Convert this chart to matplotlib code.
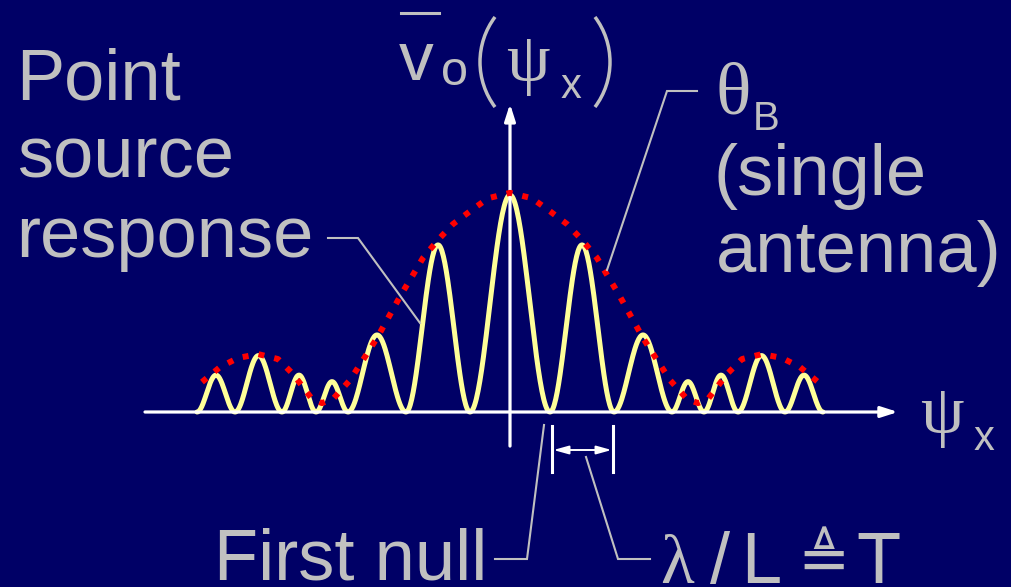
import numpy as np
import matplotlib
matplotlib.use("Agg")
import matplotlib.pyplot as plt
from matplotlib.patches import Arc
from matplotlib.transforms import Affine2D

# Fringe lobes of the point source response (positive ψx side, mirrored):
# nulls between lobes and the peak height of each lobe (centre lobe first)
null_psi = [0.40, 1.04, 1.62, 1.94, 2.28, 2.75, 3.13]
lobe_peak = [1.00, 0.77, 0.355, 0.14, 0.17, 0.26, 0.17]

# Single-antenna beam envelope θB (positive ψx side, mirrored)
env_psi = [0.00, 0.22, 0.40, 0.57, 0.72, 0.87, 0.97, 1.08, 1.23, 1.33, 1.47,
           1.60, 1.77, 1.88, 1.98, 2.17, 2.32, 2.52, 2.72, 2.90, 3.08]
env_amp = [1.01, 0.985, 0.925, 0.866, 0.793, 0.71, 0.632, 0.548, 0.424, 0.341,
           0.24, 0.147, 0.06, 0.041, 0.06, 0.175, 0.244, 0.267, 0.249, 0.207, 0.138]

BG = "#000066"
TXT = "#c0c0c0"
FRINGE = "#ffff99"
ENV = "#ff0000"
SANS = "Liberation Sans"
GREEK = "Liberation Serif"

W, H = 1012, 587
fig = plt.figure(figsize=(W / 100, H / 100), dpi=100, facecolor=BG)
ax = fig.add_axes([0, 0, 1, 1])
ax.set_facecolor(BG)
ax.axis("off")

# plot scale: origin and pixels per unit
ox, oy, sx, sy = 510, 412, 100, 217
ax.set_xlim(-ox / sx, (W - ox) / sx)
ax.set_ylim(-(H - oy) / sy, oy / sy)

# pixel coordinates (origin top-left) for labels and leaders
px = Affine2D().scale(1 / W, -1 / H).translate(0, 1) + fig.transFigure


def lobe(a, b, h, n=90):
    t = np.linspace(0.0, 1.0, n)
    return a + (b - a) * t, h * np.sin(np.pi * t) ** 2


# assemble the fringe pattern from left to right
xs, ys = [], []
for k in range(len(null_psi) - 1, 0, -1):
    x, y = lobe(-null_psi[k], -null_psi[k - 1], lobe_peak[k])
    xs.append(x); ys.append(y)
x, y = lobe(-null_psi[0], null_psi[0], lobe_peak[0])
xs.append(x); ys.append(y)
for k in range(1, len(null_psi)):
    x, y = lobe(null_psi[k - 1], null_psi[k], lobe_peak[k])
    xs.append(x); ys.append(y)
ax.plot(np.concatenate(xs), np.concatenate(ys), color=FRINGE, lw=3.6,
        solid_capstyle="round", zorder=2)

# envelope
ex = [-v for v in env_psi[::-1]] + env_psi[1:]
ey = env_amp[::-1] + env_amp[1:]
ax.plot(ex, ey, color=ENV, lw=4.3, linestyle=(0, (1, 1.7)),
        dash_capstyle="butt", zorder=4)

# axes with arrowheads
axis_style = dict(arrowstyle="-|>,head_length=1.0,head_width=0.32",
                  lw=2.3, color="white", shrinkA=0, shrinkB=0)
ax.annotate("", xy=(3.88, 0), xytext=(-3.65, 0), arrowprops=axis_style,
            zorder=3)
ax.annotate("", xy=(0, 1.42), xytext=(0, -0.157), arrowprops=axis_style,
            zorder=3)


def label(x, y, s, size, family=SANS, **kw):
    ax.text(x, y, s, transform=px, fontsize=size, color=TXT, family=family,
            ha="left", va="baseline", **kw)


def leader(xp, yp):
    ax.plot(xp, yp, color=TXT, lw=1.5, transform=px, clip_on=False,
            solid_joinstyle="miter", zorder=5)


# left caption
label(16, 99, "Point", 52)
label(17, 178, "source", 52)
label(16, 257, "response", 52)
leader([328, 358, 420], [238, 238, 323])

# right caption
label(716, 113, "θ", 53, family=GREEK)
label(753, 130, "B", 29)
label(714, 195, "(single", 52)
label(716, 272, "antenna)", 52)
leader([697, 667, 607], [91, 91, 270])

# title  v̄o(ψx)
label(399, 80, "v", 50)
ax.plot([401, 439], [13, 13], color=TXT, lw=2.2, transform=px, clip_on=False)
label(441, 85, "o", 35)
ax.add_patch(Arc((555, 62), 150, 150, theta1=143.1, theta2=216.9,
                 transform=px, color=TXT, lw=2.5))
label(506, 81, "ψ", 50, family=GREEK)
label(561, 98, "x", 30)
ax.add_patch(Arc((535, 62), 150, 150, theta1=-36.9, theta2=36.9,
                 transform=px, color=TXT, lw=2.5))

# axis label ψx
label(920, 433, "ψ", 50, family=GREEK)
label(974, 450, "x", 30)

# first null
label(214, 580, "First null", 52)
leader([495, 527, 544], [559, 559, 425])

# fringe spacing marker
for xt in (552, 613):
    ax.plot([xt, xt], [426, 472], color="white", lw=2.2, transform=px,
            clip_on=False, zorder=5)
ax.annotate("", xy=(613, 450), xytext=(552, 450), xycoords=px, textcoords=px,
            arrowprops=dict(arrowstyle="<|-|>,head_length=0.9,head_width=0.25",
                            lw=1.4, color="white", shrinkA=1, shrinkB=1))
leader([586, 618, 650], [457, 559, 559])
label(660, 583, "λ", 50, family=GREEK)
label(710, 583, "/", 52)
label(741, 583, "L", 52)
label(797, 580, "≜", 45, family="DejaVu Sans")
label(856, 583, "T", 52)

fig.savefig("out.png", dpi=100, facecolor=BG)
